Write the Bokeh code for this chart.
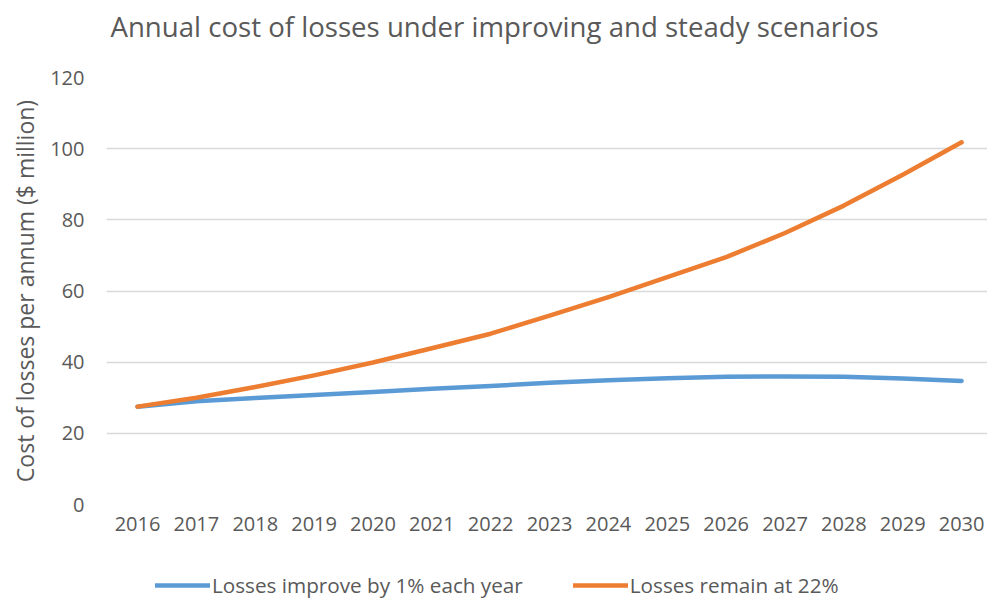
from bokeh.plotting import figure
from bokeh.models import Range1d, FixedTicker, Legend, LegendItem
from bokeh.core.properties import value
from bokeh.layouts import column
from bokeh.embed import file_html
from bokeh.resources import INLINE

title_text = "Annual cost of losses under improving and steady scenarios"
years = list(range(2016, 2031))
improve = [27.5, 29.0, 29.9, 30.8, 31.6, 32.5, 33.3, 34.2, 34.9, 35.5, 35.9, 36.0, 35.9, 35.4, 34.7]
remain = [27.5, 30.0, 33.0, 36.3, 39.9, 43.9, 48.0, 53.1, 58.3, 63.9, 69.5, 76.3, 84.0, 92.7, 101.8]
y_ticks = [0, 20, 40, 60, 80, 100, 120]
series_names = ["Losses improve by 1% each year", "Losses remain at 22%"]
series_colors = ["#5B9BD5", "#ED7D31"]

FONT = "Open Sans"
GREY = "#595959"


def strip(height):
    f = figure(width=987, height=height, output_backend="svg", toolbar_location=None,
               x_range=Range1d(0, 881), y_range=Range1d(0, height),
               x_axis_location=None, y_axis_location=None,
               min_border_left=106, min_border_right=0, min_border_top=0, min_border_bottom=0)
    f.outline_line_color = None
    f.xgrid.grid_line_color = None
    f.ygrid.grid_line_color = None
    return f


# title strip (62 px tall); frame spans x 106..987 in pixels
tf = strip(62)
tf.text(x=[4], y=[62 - 25], text=[title_text], text_font=value(FONT), text_font_size="27.6px",
        text_color=GREY, text_baseline="middle", text_align="left")

# main chart
p = figure(width=987, height=493, output_backend="svg", toolbar_location=None,
           x_range=Range1d(2015.473, 2030.44), y_range=Range1d(0, 120),
           min_border_left=106, min_border_right=0, min_border_top=15, min_border_bottom=51)
p.outline_line_color = None

p.xaxis.ticker = FixedTicker(ticks=years)
p.yaxis.ticker = FixedTicker(ticks=y_ticks)
for ax in (p.xaxis[0], p.yaxis[0]):
    ax.axis_line_color = None
    ax.major_tick_line_color = None
    ax.minor_tick_line_color = None
    ax.major_tick_in = 0
    ax.major_tick_out = 0
    ax.major_label_text_font = FONT
    ax.major_label_text_font_size = "20px"
    ax.major_label_text_color = GREY
p.xaxis.major_label_standoff = 12
p.yaxis.major_label_standoff = 22
p.yaxis.axis_label = "Cost of losses per annum ($ million)"
p.yaxis.axis_label_text_font = FONT
p.yaxis.axis_label_text_font_size = "23px"
p.yaxis.axis_label_text_font_style = "normal"
p.yaxis.axis_label_text_color = GREY
p.yaxis.axis_label_standoff = 6

p.xgrid.grid_line_color = None
p.ygrid.grid_line_color = "#D9D9D9"
p.ygrid.grid_line_width = 1.5

p.line(years, improve, line_color=series_colors[0], line_width=4.5, line_cap="round", line_join="round")
p.line(years, remain, line_color=series_colors[1], line_width=4.5, line_cap="round", line_join="round")

# legend strip below the chart
lf = strip(46)
items = []
for name, col in zip(series_names, series_colors):
    r = lf.line([-50, -40], [-50, -40], line_color=col, line_width=4.5, line_cap="round")
    items.append(LegendItem(label=name, renderers=[r]))
legend = Legend(items=items, orientation="horizontal", location=(49, 2))
legend.border_line_color = None
legend.background_fill_alpha = 0
legend.label_text_font = FONT
legend.label_text_font_size = "20.7px"
legend.label_text_color = GREY
legend.glyph_width = 55
legend.label_standoff = 2
legend.spacing = 50
legend.margin = 0
legend.padding = 0
lf.add_layout(legend, "center")

layout = column(tf, p, lf, spacing=0)
open("out.html", "w").write(file_html(layout, INLINE))
